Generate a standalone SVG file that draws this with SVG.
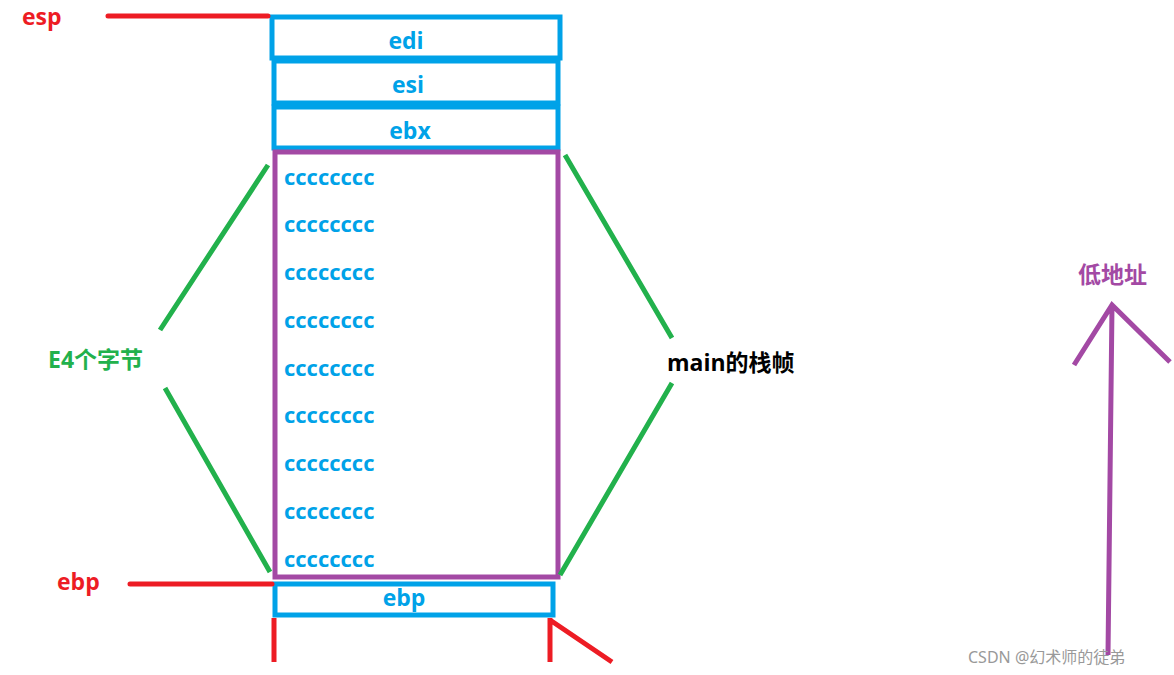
<svg xmlns="http://www.w3.org/2000/svg" width="1174" height="675" viewBox="0 0 1174 675">
<style>
.b{fill:none;stroke:#00a2e8;stroke-width:5}
.p{fill:none;stroke:#a349a4;stroke-width:5}
.g{stroke:#22b14c;stroke-width:5;fill:none}
.r{stroke:#ed1c24;stroke-width:5;fill:none}
.t{font-family:"Open Sans","Noto Sans CJK SC",sans-serif;font-weight:bold;font-size:23px}
.tb{fill:#00a2e8}
.c{fill:#00a2e8;font-family:"Open Sans",sans-serif;font-weight:bold;font-size:22px}
</style>
<rect width="1174" height="675" fill="#fff"/>
<g id="edi"><rect class="b" x="272" y="17" width="288" height="41"/><text class="t tb" x="406" y="49" text-anchor="middle">edi</text></g>
<g id="esi"><rect class="b" x="274" y="61" width="284" height="42"/><text class="t tb" x="408" y="93" text-anchor="middle">esi</text></g>
<g id="ebx"><rect class="b" x="274" y="107" width="284" height="41"/><text class="t tb" x="410" y="139" text-anchor="middle">ebx</text></g>
<g id="frame"><rect class="p" x="275" y="152" width="283" height="425"/>
<text class="c" x="284" y="185">cccccccc</text>
<text class="c" x="284" y="232">cccccccc</text>
<text class="c" x="284" y="280">cccccccc</text>
<text class="c" x="284" y="328">cccccccc</text>
<text class="c" x="284" y="376">cccccccc</text>
<text class="c" x="284" y="423">cccccccc</text>
<text class="c" x="284" y="471">cccccccc</text>
<text class="c" x="284" y="519">cccccccc</text>
<text class="c" x="284" y="567">cccccccc</text></g>
<g id="ebpbox"><rect class="b" x="275" y="584" width="278" height="31"/><text class="t tb" x="404" y="606" text-anchor="middle">ebp</text></g>
<g id="connectors">
<path class="g" d="M268,165 L160,330 M165,388 L270,572 M565,155 L672,338 M672,383 L560,575"/>
<path class="r" stroke-linecap="round" d="M108,16 L268,16 M130,584 L272,584"/>
<path class="r" d="M274,618 L274,662 M550,618 L550,662 M550,620 L612,662"/>
<path fill="none" stroke="#a349a4" stroke-width="5" d="M1108,655 L1112,305 M1074,365 L1112,305 L1170,362"/>
</g>
<g id="labels">
<text class="t" fill="#ed1c24" x="22" y="25">esp</text>
<text class="t" fill="#ed1c24" x="57" y="590">ebp</text>
<text class="t" fill="#22b14c" x="48" y="368" font-size="21">E4个字节</text>
<text class="t" fill="#000" x="667" y="371" font-size="21">main的栈帧</text>
<text class="t" fill="#a349a4" x="1078" y="283" font-size="21">低地址</text>
<text x="968" y="663" fill="#999" font-family="Noto Sans, Noto Sans CJK SC, sans-serif" font-size="16">CSDN @幻术师的徒弟</text>
</g>
</svg>
